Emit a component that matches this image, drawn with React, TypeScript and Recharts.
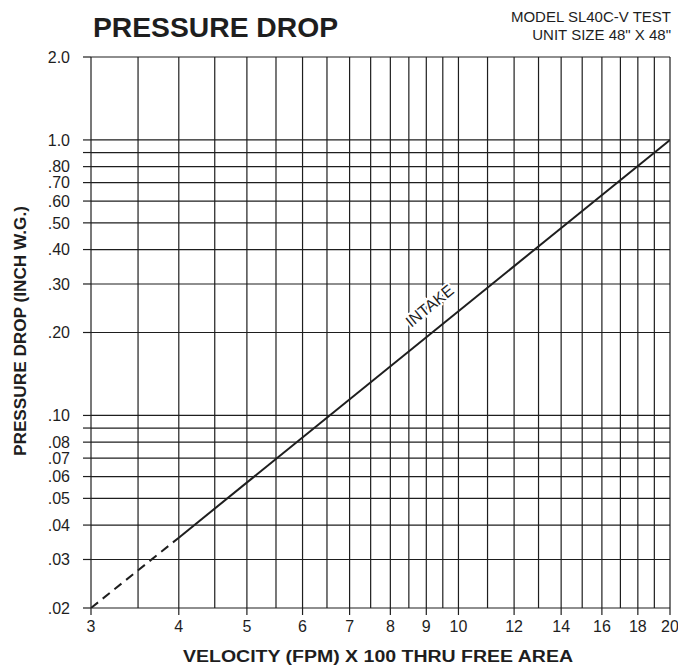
import React from 'react';
import { LineChart, Line, XAxis, YAxis, CartesianGrid, ReferenceDot } from 'recharts';

const xGridValues = [3, 3.5, 4, 4.5, 5, 5.5, 6, 6.5, 7, 7.5, 8, 8.5, 9, 9.5, 10, 11, 12, 13, 14, 15, 16, 17, 18, 19, 20];
const xTickValues = [3, 4, 5, 6, 7, 8, 9, 10, 12, 14, 16, 18, 20];
const yTickValues = [0.02, 0.03, 0.04, 0.05, 0.06, 0.07, 0.08, 0.09, 0.1, 0.2, 0.3, 0.4, 0.5, 0.6, 0.7, 0.8, 0.9, 1, 2];
const yTickLabels = ['.02', '.03', '.04', '.05', '.06', '.07', '.08', '', '.10', '.20', '.30', '.40', '.50', '.60', '.70', '.80', '', '1.0', '2.0'];

const intakeExtrapolated = [
  { v: 3, p: 0.02 },
  { v: 4, p: 0.036 },
];
const intakeMeasured = [
  { v: 4, p: 0.036 },
  { v: 20, p: 1.0 },
];
const intakeLabel = { v: 9.1, p: 0.25, text: 'INTAKE' };

const FONT = '"Liberation Sans", Arial, Helvetica, sans-serif';
const INK = '#1e1e1e';

const IntakeText = (props: any) => {
  const { cx, cy } = props;
  if (cx == null || cy == null) return null;
  return (
    <text
      x={cx}
      y={cy}
      transform={`rotate(-39, ${cx}, ${cy})`}
      textAnchor="middle"
      dominantBaseline="central"
      fontFamily={FONT}
      fontSize={16}
      fill={INK}
      stroke="#fff"
      strokeWidth={4}
      paintOrder="stroke"
    >
      {intakeLabel.text}
    </text>
  );
};

export default function App() {
  return (
    <div style={{ position: 'absolute', left: 0, top: 0, width: 678, height: 670, background: '#fff' }}>
      <LineChart
        width={678}
        height={670}
        margin={{ top: 57, right: 8, left: 0, bottom: 0 }}
      >
        <CartesianGrid
          stroke={INK}
          strokeWidth={1.2}
          horizontalValues={yTickValues}
          verticalValues={xGridValues}
        />
        <XAxis
          dataKey="v"
          type="number"
          scale="log"
          domain={[3, 20]}
          ticks={xTickValues}
          interval={0}
          allowDataOverflow
          height={62}
          axisLine={false}
          tickLine={{ stroke: INK, strokeWidth: 1.2 }}
          tickSize={7}
          tickMargin={6}
          tick={{ fill: INK, fontSize: 16, fontFamily: FONT }}
        />
        <YAxis
          dataKey="p"
          type="number"
          scale="log"
          domain={[0.02, 2]}
          ticks={yTickValues}
          interval={0}
          allowDataOverflow
          width={91}
          axisLine={false}
          tickLine={{ stroke: INK, strokeWidth: 1.2 }}
          tickSize={8}
          tickMargin={13}
          tickFormatter={(val: number) => {
            const i = yTickValues.indexOf(val);
            return i >= 0 ? yTickLabels[i] : '';
          }}
          tick={{ fill: INK, fontSize: 16, fontFamily: FONT }}
        />
        <Line
          data={intakeExtrapolated}
          dataKey="p"
          type="linear"
          stroke={INK}
          strokeWidth={2}
          strokeDasharray="9 6"
          dot={false}
          activeDot={false}
          isAnimationActive={false}
        />
        <Line
          data={intakeMeasured}
          dataKey="p"
          type="linear"
          stroke={INK}
          strokeWidth={2}
          dot={false}
          activeDot={false}
          isAnimationActive={false}
        />
        <ReferenceDot x={intakeLabel.v} y={intakeLabel.p} r={0} shape={IntakeText} />
      </LineChart>
      <svg
        width={678}
        height={670}
        style={{ position: 'absolute', left: 0, top: 0, pointerEvents: 'none' }}
      >
        <text x={93} y={37} fontFamily={FONT} fontWeight="bold" fontSize={28} fill={INK} textLength={245} lengthAdjust="spacingAndGlyphs">
          PRESSURE DROP
        </text>
        <text x={671} y={22} textAnchor="end" fontFamily={FONT} fontSize={15} fill={INK}>
          MODEL SL40C-V TEST
        </text>
        <text x={671} y={40} textAnchor="end" fontFamily={FONT} fontSize={15} fill={INK}>
          UNIT SIZE 48" X 48"
        </text>
        <text x={378} y={662} textAnchor="middle" fontFamily={FONT} fontWeight="bold" fontSize={16} fill={INK} textLength={390} lengthAdjust="spacingAndGlyphs">
          VELOCITY (FPM) X 100 THRU FREE AREA
        </text>
        <text
          x={0}
          y={0}
          transform="translate(26, 331) rotate(-90)"
          textAnchor="middle"
          fontFamily={FONT}
          fontWeight="bold"
          fontSize={16}
          fill={INK}
          textLength={250}
          lengthAdjust="spacingAndGlyphs"
        >
          PRESSURE DROP (INCH W.G.)
        </text>
      </svg>
    </div>
  );
}
